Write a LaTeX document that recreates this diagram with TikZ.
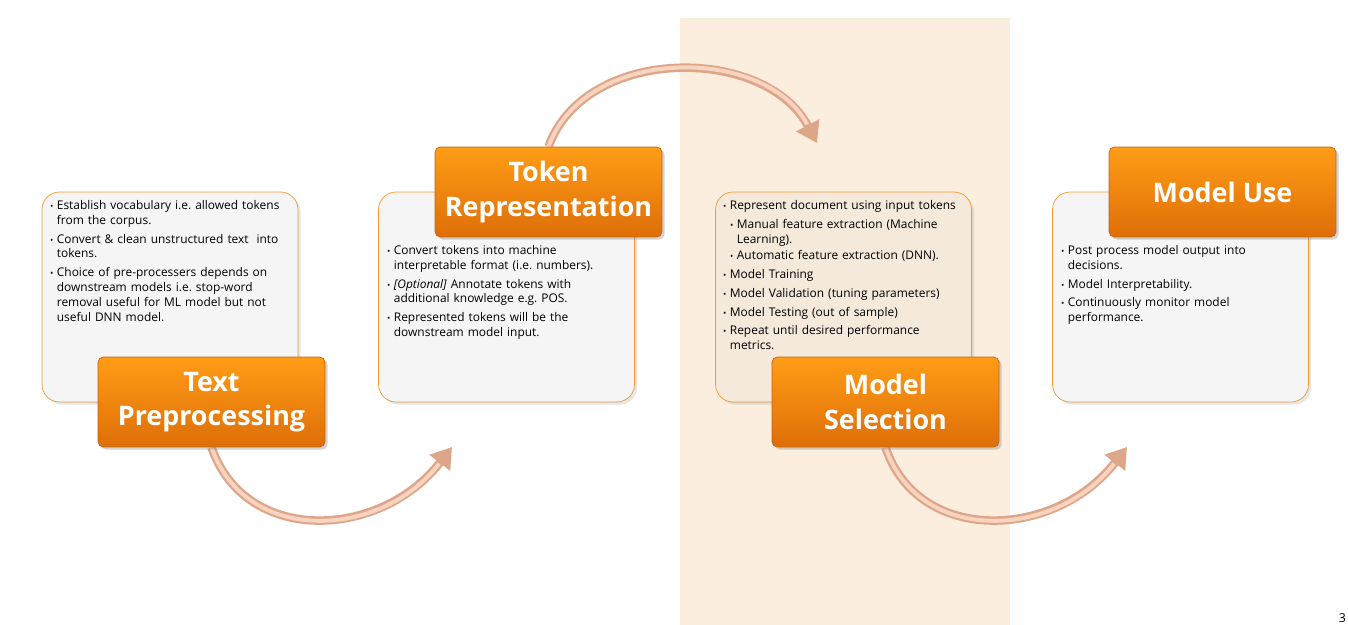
\documentclass[tikz,border=0pt]{standalone}
\usepackage{fontspec}
\setmainfont{Open Sans}
\usepackage{enumitem}
\usetikzlibrary{positioning, arrows.meta, shadows, backgrounds}
\definecolor{nlpband}{RGB}{251, 238, 222}
\definecolor{nlpbox}{RGB}{245, 245, 245}
\definecolor{nlpboxband}{RGB}{244, 233, 219}
\definecolor{nlpedge}{RGB}{242, 154, 46}
\definecolor{nlptop}{RGB}{255, 157, 22}
\definecolor{nlpbottom}{RGB}{222, 110, 8}
\definecolor{nlpborder}{RGB}{196, 100, 15}
\definecolor{nlparrow}{RGB}{222, 166, 136}
\definecolor{nlparrowlight}{RGB}{248, 212, 192}
\pgfdeclarelayer{bandlayer}
\pgfdeclarelayer{arrowlayer}
\pgfsetlayers{bandlayer,arrowlayer,main}
\setlist[itemize]{leftmargin=6pt, labelsep=2pt, label={\fontsize{5}{5}\selectfont\textbullet},
  itemsep=2.2pt, topsep=0pt, parsep=0pt, partopsep=0pt}
\setlist[itemize,2]{leftmargin=4pt, itemsep=0.6pt, topsep=2.4pt}
\frenchspacing

\begin{document}
\begin{tikzpicture}[x=0.02cm, y=-0.02cm,
    every node/.style={align=center},
    stagebox/.style={draw=nlpedge, fill=nlpbox, rounded corners=0.35cm, minimum width=5.12cm,
      minimum height=4.2cm, drop shadow={shadow xshift=1.5pt, shadow yshift=-1.5pt, opacity=0.2}},
    stagetitle/.style={draw=nlpborder, top color=nlptop, bottom color=nlpbottom, rounded corners=3pt,
      minimum width=4.54cm, minimum height=1.8cm, text=white,
      font=\fontsize{15.3}{19.5}\selectfont\bfseries,
      drop shadow={shadow xshift=1.5pt, shadow yshift=-1.5pt, opacity=0.35}},
    stagetext/.style={anchor=north west, inner sep=0pt, text width=4.95cm, align=left,
      font=\fontsize{6.8}{8.5}\selectfont},
    flowarrow/.style={line width=0.17cm, draw=nlparrow, -{Triangle[length=0.4cm, width=0.5cm]},
      postaction={draw=nlparrowlight, line width=0.08cm, -, shorten >=0.42cm}}]
  \useasboundingbox (0,0) rectangle (1348,625);
  \begin{pgfonlayer}{bandlayer}
    \fill[nlpband] (680,18) rectangle (1010,625);
  \end{pgfonlayer}

  % text preprocessing
  \node[stagebox] (b1) at (170,297) {};
  \node[stagetext] (t1) at (46,194) {\begin{itemize}
      \item Establish vocabulary i.e. allowed tokens\newline from the corpus.
      \item Convert \& clean unstructured text\ \ into\newline tokens.
      \item Choice of pre-processers depends on\newline downstream models i.e. stop-word\newline removal useful for ML model but not\newline useful DNN model.
    \end{itemize}};
  \node[stagetitle] (h1) at (211.5,402) {Text\\Preprocessing};

  % token representation
  \node[stagebox] (b2) at (506.5,297) {};
  \node[stagetext] (t2) at (383,239) {\begin{itemize}
      \item Convert tokens into machine\newline interpretable format (i.e. numbers).
      \item \textit{[Optional]} Annotate tokens with\newline additional knowledge e.g. POS.
      \item Represented tokens will be the\newline downstream model input.
    \end{itemize}};
  \node[stagetitle] (h2) at (548.5,192) {Token\\Representation};

  % model selection
  \node[stagebox, fill=nlpboxband] (b3) at (843.5,297) {};
  \node[stagetext] (t3) at (719,194) {\begin{itemize}
      \item Represent document using input tokens
      \begin{itemize}
        \item Manual feature extraction (Machine\newline Learning).
        \item Automatic feature extraction (DNN).
      \end{itemize}
      \item Model Training
      \item Model Validation (tuning parameters)
      \item Model Testing (out of sample)
      \item Repeat until desired performance\newline metrics.
    \end{itemize}};
  \node[stagetitle] (h3) at (885.5,402) {Model\\Selection};

  % model use
  \node[stagebox] (b4) at (1180.5,297) {};
  \node[stagetext] (t4) at (1057,239) {\begin{itemize}
      \item Post process model output into\newline decisions.
      \item Model Interpretability.
      \item Continuously monitor model\newline performance.
    \end{itemize}};
  \node[stagetitle] (h4) at (1222.5,192) {Model Use};

  \node[anchor=south east, inner sep=1pt, font=\fontsize{7}{7}\selectfont] (pagenum) at (1348,625) {3};

  \coordinate (e1) at (452,447);
  \coordinate (e2) at (817,143);
  \coordinate (e3) at (1127,447);
  \begin{pgfonlayer}{arrowlayer}
    \draw[flowarrow] (h1.south) .. controls (245,545) and (380,540) .. (e1);
    \draw[flowarrow] (h2.north) .. controls (585,45) and (765,45) .. (e2);
    \draw[flowarrow] (h3.south) .. controls (918,545) and (1055,540) .. (e3);
  \end{pgfonlayer}
\end{tikzpicture}
\end{document}
